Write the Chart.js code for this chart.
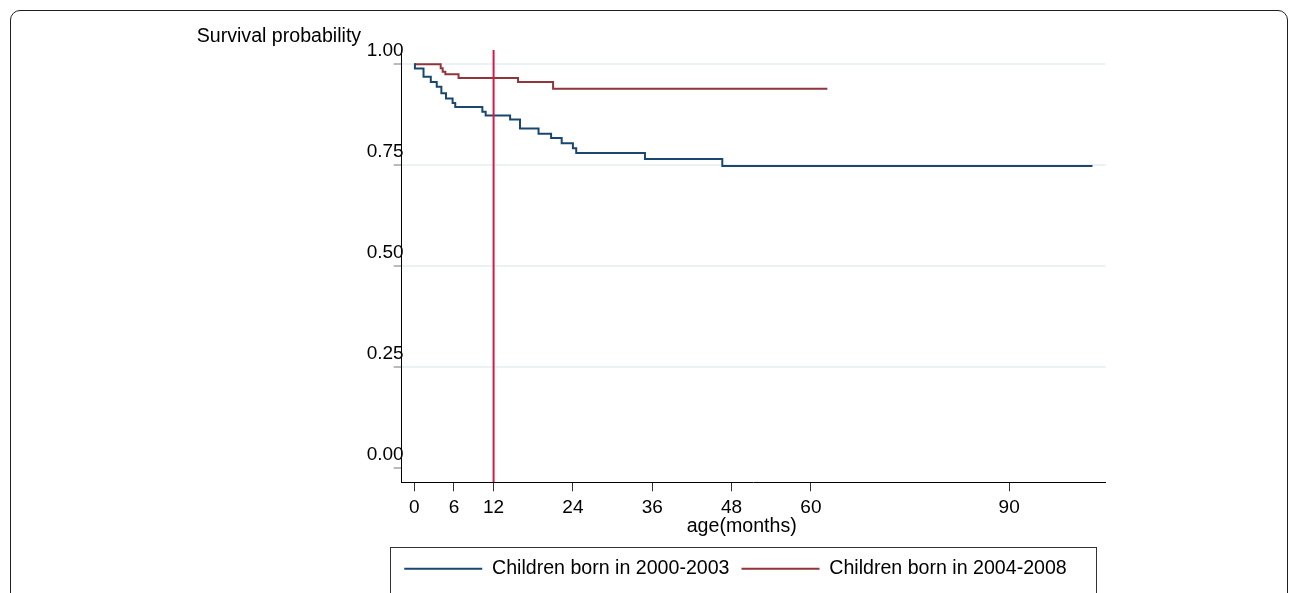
<!DOCTYPE html>
<html>
<head>
<meta charset="utf-8">
<script src="https://cdn.jsdelivr.net/npm/chart.js@4.4.1/dist/chart.umd.min.js"></script>
<style>
  html, body { margin: 0; padding: 0; background: #fff; overflow: hidden; }
  #frame { position: absolute; left: 10px; top: 10px; width: 1276px; height: 640px; border: 1px solid #1e1e1e; border-radius: 10px; }
  #wrap { position: absolute; left: 0; top: 0; width: 1290px; height: 593px; }
</style>
</head>
<body>
<div id="frame"></div>
<div id="wrap"><canvas id="km" width="1290" height="593"></canvas></div>
<script>
// Kaplan-Meier survival curves
const groupLabels = ['Children born in 2000-2003', 'Children born in 2004-2008'];

const months2000 = [0, 0.1, 1.4, 2.5, 3.4, 4.1, 4.8, 5.8, 6.2, 10.3, 10.8, 14.5, 16.0, 18.8, 20.7, 22.3, 24.0, 24.5, 34.9, 46.6, 102.6];
const surv2000   = [1.000, 0.989, 0.969, 0.956, 0.944, 0.928, 0.915, 0.904, 0.894, 0.882, 0.873, 0.863, 0.841, 0.828, 0.817, 0.804, 0.792, 0.780, 0.765, 0.748, 0.748];

const months2004 = [0, 4.0, 4.3, 4.7, 6.7, 15.7, 21.0, 62.5];
const surv2004   = [1.000, 0.990, 0.981, 0.975, 0.966, 0.956, 0.939, 0.939];

const xTicks = [0, 6, 12, 24, 36, 48, 60, 90];
const yTicks = [0, 0.25, 0.5, 0.75, 1];
const refMonth = 12;

const yTitle = 'Survival probability';
const xTitle = 'age(months)';

const xMin = -1.9, xMax = 104.6;
const yMin = -0.035, yMax = 1.035;

const navy = '#1a476f';
const maroon = '#90353b';
const refColor = '#d31a4a';
const gridColor = '#eaf2f3';
const FONT = '"Liberation Sans", Arial, sans-serif';
const TEXT_SIZE = 19.6;

function toPoints(xs, ys) {
  return xs.map((x, i) => ({ x: x, y: ys[i] }));
}

// axis titles (Stata places them off-centre) and the box round the legend
const extras = {
  id: 'extras',
  afterDraw(chart) {
    const { ctx, chartArea, legend } = chart;
    ctx.save();
    ctx.fillStyle = '#000';
    ctx.font = TEXT_SIZE + 'px ' + FONT;
    ctx.textBaseline = 'middle';
    ctx.textAlign = 'left';
    ctx.fillText(yTitle, chartArea.left - 205, 36.5);
    ctx.textAlign = 'center';
    ctx.fillText(xTitle, (chartArea.left + chartArea.right) / 2 - 12, chartArea.bottom + 44);
    ctx.strokeStyle = '#333';
    ctx.lineWidth = 1;
    ctx.strokeRect(Math.round(chartArea.left - 12) + 0.5, Math.round(legend.top) + 0.5,
      Math.round(chartArea.right - chartArea.left + 2), 80);
    ctx.restore();
  }
};

Chart.defaults.color = '#000';
Chart.defaults.font.family = FONT;
Chart.defaults.font.size = 19;

new Chart(document.getElementById('km').getContext('2d'), {
  type: 'line',
  data: {
    datasets: [
      {
        label: groupLabels[0],
        data: toPoints(months2000, surv2000),
        borderColor: navy,
        borderWidth: 2,
        stepped: true,
        pointRadius: 0,
        order: 1
      },
      {
        label: groupLabels[1],
        data: toPoints(months2004, surv2004),
        borderColor: maroon,
        borderWidth: 2,
        stepped: true,
        pointRadius: 0,
        order: 1
      },
      {
        label: 'xline',
        data: [{ x: refMonth, y: yMax }, { x: refMonth, y: yMin }],
        borderColor: refColor,
        borderWidth: 2,
        pointRadius: 0,
        order: 0
      }
    ]
  },
  options: {
    responsive: false,
    animation: false,
    layout: { padding: { left: 365.3, right: 184.3, top: 50, bottom: 4.4 } },
    plugins: {
      tooltip: { enabled: false },
      title: { display: false },
      legend: {
        position: 'bottom',
        labels: {
          filter: item => item.text !== 'xline',
          usePointStyle: true,
          pointStyle: 'line',
          pointStyleWidth: 78,
          padding: 12,
          color: '#000',
          font: { size: TEXT_SIZE }
        }
      }
    },
    scales: {
      x: {
        type: 'linear',
        min: xMin,
        max: xMax,
        afterBuildTicks: s => { s.ticks = xTicks.map(v => ({ value: v })); },
        afterFit: s => { s.height = 64.7; },
        ticks: { padding: 5, autoSkip: false, maxRotation: 0, callback: v => String(v) },
        grid: { drawOnChartArea: false, tickLength: 9, tickColor: '#333', tickWidth: 1 },
        border: { color: '#000', width: 1 },
        title: { display: false }
      },
      y: {
        type: 'linear',
        min: yMin,
        max: yMax,
        afterBuildTicks: s => { s.ticks = yTicks.map(v => ({ value: v })); },
        afterFit: s => { s.width = 36.4; },
        ticks: { mirror: true, padding: -35, labelOffset: -13.5, callback: v => v.toFixed(2) },
        grid: {
          color: c => (c.tick && c.tick.value === 0 ? 'rgba(0,0,0,0)' : gridColor),
          lineWidth: 2,
          tickLength: 8,
          tickColor: '#777',
          tickWidth: 1
        },
        border: { color: '#000', width: 1 }
      }
    }
  },
  plugins: [extras]
});
</script>
</body>
</html>
